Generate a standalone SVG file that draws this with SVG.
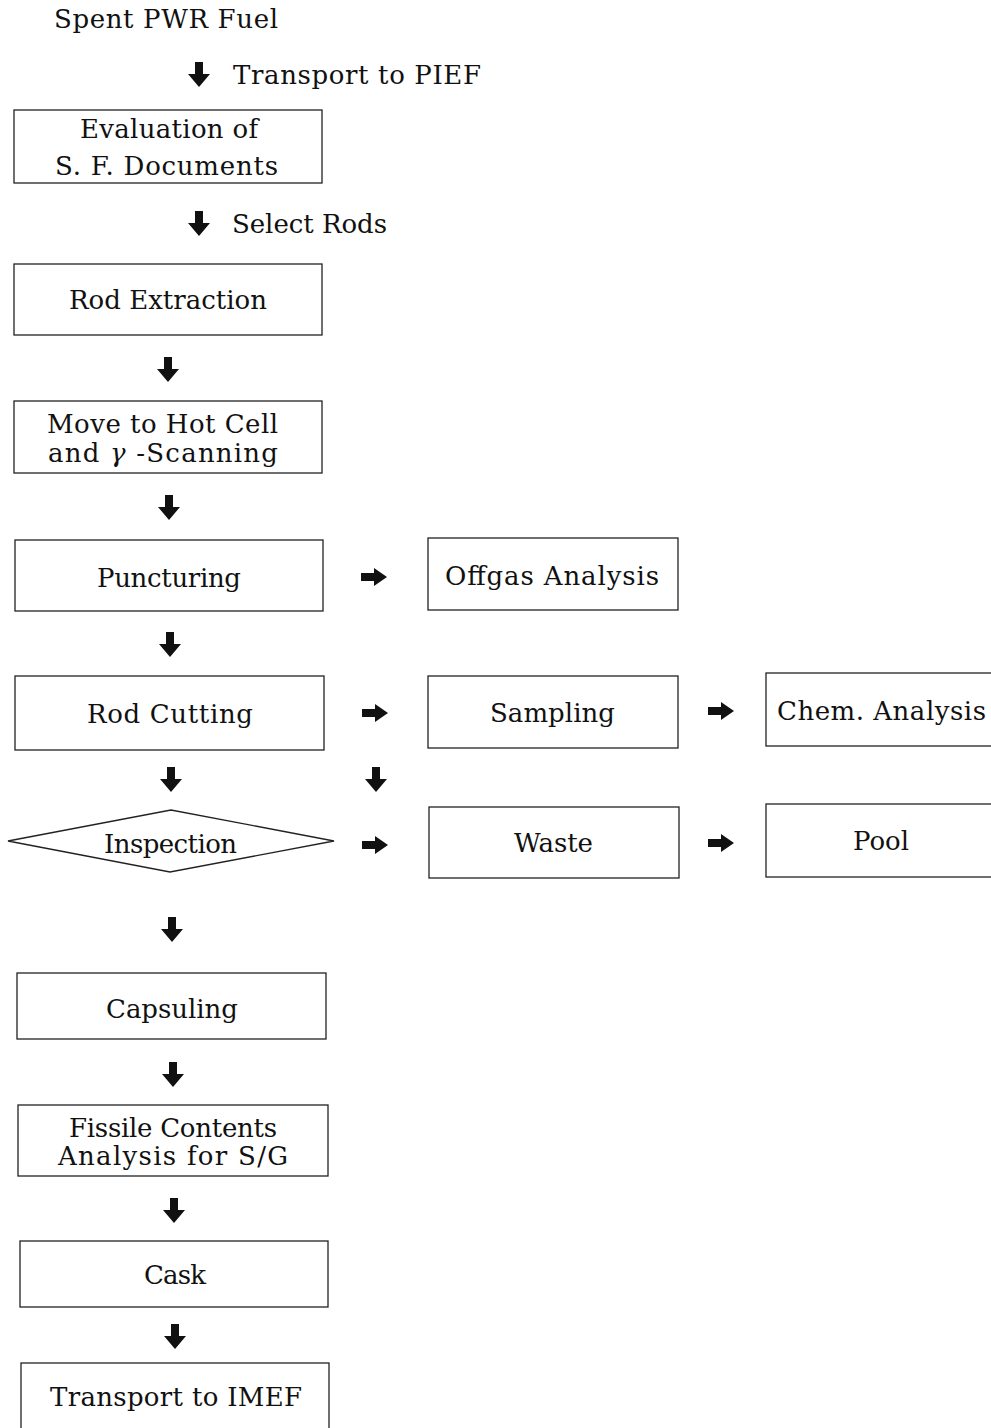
<svg xmlns="http://www.w3.org/2000/svg" width="991" height="1428" viewBox="0 0 991 1428">
<style>
.box{fill:#fff;stroke:#222;stroke-width:1.3}
.t{font-family:"DejaVu Serif","Liberation Serif",serif;font-size:26px;fill:#111}
.arr{fill:#111}
</style>
<defs>
<path id="ad" d="M-4,0 H4 V12 H11 L0,25 L-11,12 H-4 Z"/>
<path id="ar" d="M0,-4 H13 V-9 L26,0 L13,9 V4 H0 Z"/>
</defs>
<rect width="991" height="1428" fill="#fff"/>
<g id="connectors" class="arr">
<use href="#ad" x="199" y="62"/>
<use href="#ad" x="199" y="211"/>
<use href="#ad" x="168" y="357"/>
<use href="#ad" x="169" y="495"/>
<use href="#ad" x="170" y="632"/>
<use href="#ad" x="171" y="767"/>
<use href="#ad" x="376" y="767"/>
<use href="#ad" x="172" y="917"/>
<use href="#ad" x="173" y="1062"/>
<use href="#ad" x="174" y="1198"/>
<use href="#ad" x="175" y="1324"/>
<use href="#ar" x="361" y="577"/>
<use href="#ar" x="362" y="713"/>
<use href="#ar" x="708" y="711"/>
<use href="#ar" x="362" y="845"/>
<use href="#ar" x="708" y="843"/>
</g>
<g id="start"><text class="t" x="54" y="28" textLength="224">Spent PWR Fuel</text></g>
<g id="lbl-transport"><text class="t" x="233" y="84" textLength="248">Transport to PIEF</text></g>
<g id="evaluation"><rect class="box" x="14" y="110" width="308" height="73"/>
<text class="t" x="80" y="138" textLength="178">Evaluation of</text>
<text class="t" x="55" y="175" textLength="223">S. F. Documents</text></g>
<g id="lbl-select"><text class="t" x="232" y="233" textLength="155">Select Rods</text></g>
<g id="extraction"><rect class="box" x="14" y="264" width="308" height="71"/>
<text class="t" x="69" y="309" textLength="198">Rod Extraction</text></g>
<g id="hotcell"><rect class="box" x="14" y="401" width="308" height="72"/>
<text class="t" x="47" y="433" textLength="231">Move to Hot Cell</text>
<text class="t" x="48" y="462" textLength="230">and  <tspan font-style="italic">γ</tspan> -Scanning</text></g>
<g id="puncturing"><rect class="box" x="15" y="540" width="308" height="71"/>
<text class="t" x="97" y="587" textLength="144">Puncturing</text></g>
<g id="offgas"><rect class="box" x="428" y="538" width="250" height="72"/>
<text class="t" x="445" y="585" textLength="214">Offgas Analysis</text></g>
<g id="cutting"><rect class="box" x="15" y="676" width="309" height="74"/>
<text class="t" x="87" y="723" textLength="166">Rod Cutting</text></g>
<g id="sampling"><rect class="box" x="428" y="676" width="250" height="72"/>
<text class="t" x="490" y="722" textLength="125">Sampling</text></g>
<g id="chem"><rect class="box" x="766" y="673" width="240" height="73"/>
<text class="t" x="777" y="720" textLength="209">Chem. Analysis</text></g>
<g id="inspection"><polygon class="box" points="8,841 171,810 334,841 170,872"/>
<text class="t" x="104" y="853" textLength="133">Inspection</text></g>
<g id="waste"><rect class="box" x="429" y="807" width="250" height="71"/>
<text class="t" x="514" y="852" textLength="79">Waste</text></g>
<g id="pool"><rect class="box" x="766" y="804" width="240" height="73"/>
<text class="t" x="853" y="850" textLength="56">Pool</text></g>
<g id="capsuling"><rect class="box" x="17" y="973" width="309" height="66"/>
<text class="t" x="106" y="1018" textLength="132">Capsuling</text></g>
<g id="fissile"><rect class="box" x="18" y="1105" width="310" height="71"/>
<text class="t" x="69" y="1137" textLength="208">Fissile Contents</text>
<text class="t" x="58" y="1165" textLength="230">Analysis for S/G</text></g>
<g id="cask"><rect class="box" x="20" y="1241" width="308" height="66"/>
<text class="t" x="144" y="1284" textLength="62">Cask</text></g>
<g id="imef"><rect class="box" x="21" y="1363" width="308" height="80"/>
<text class="t" x="50" y="1406" textLength="252">Transport to IMEF</text></g>
</svg>
